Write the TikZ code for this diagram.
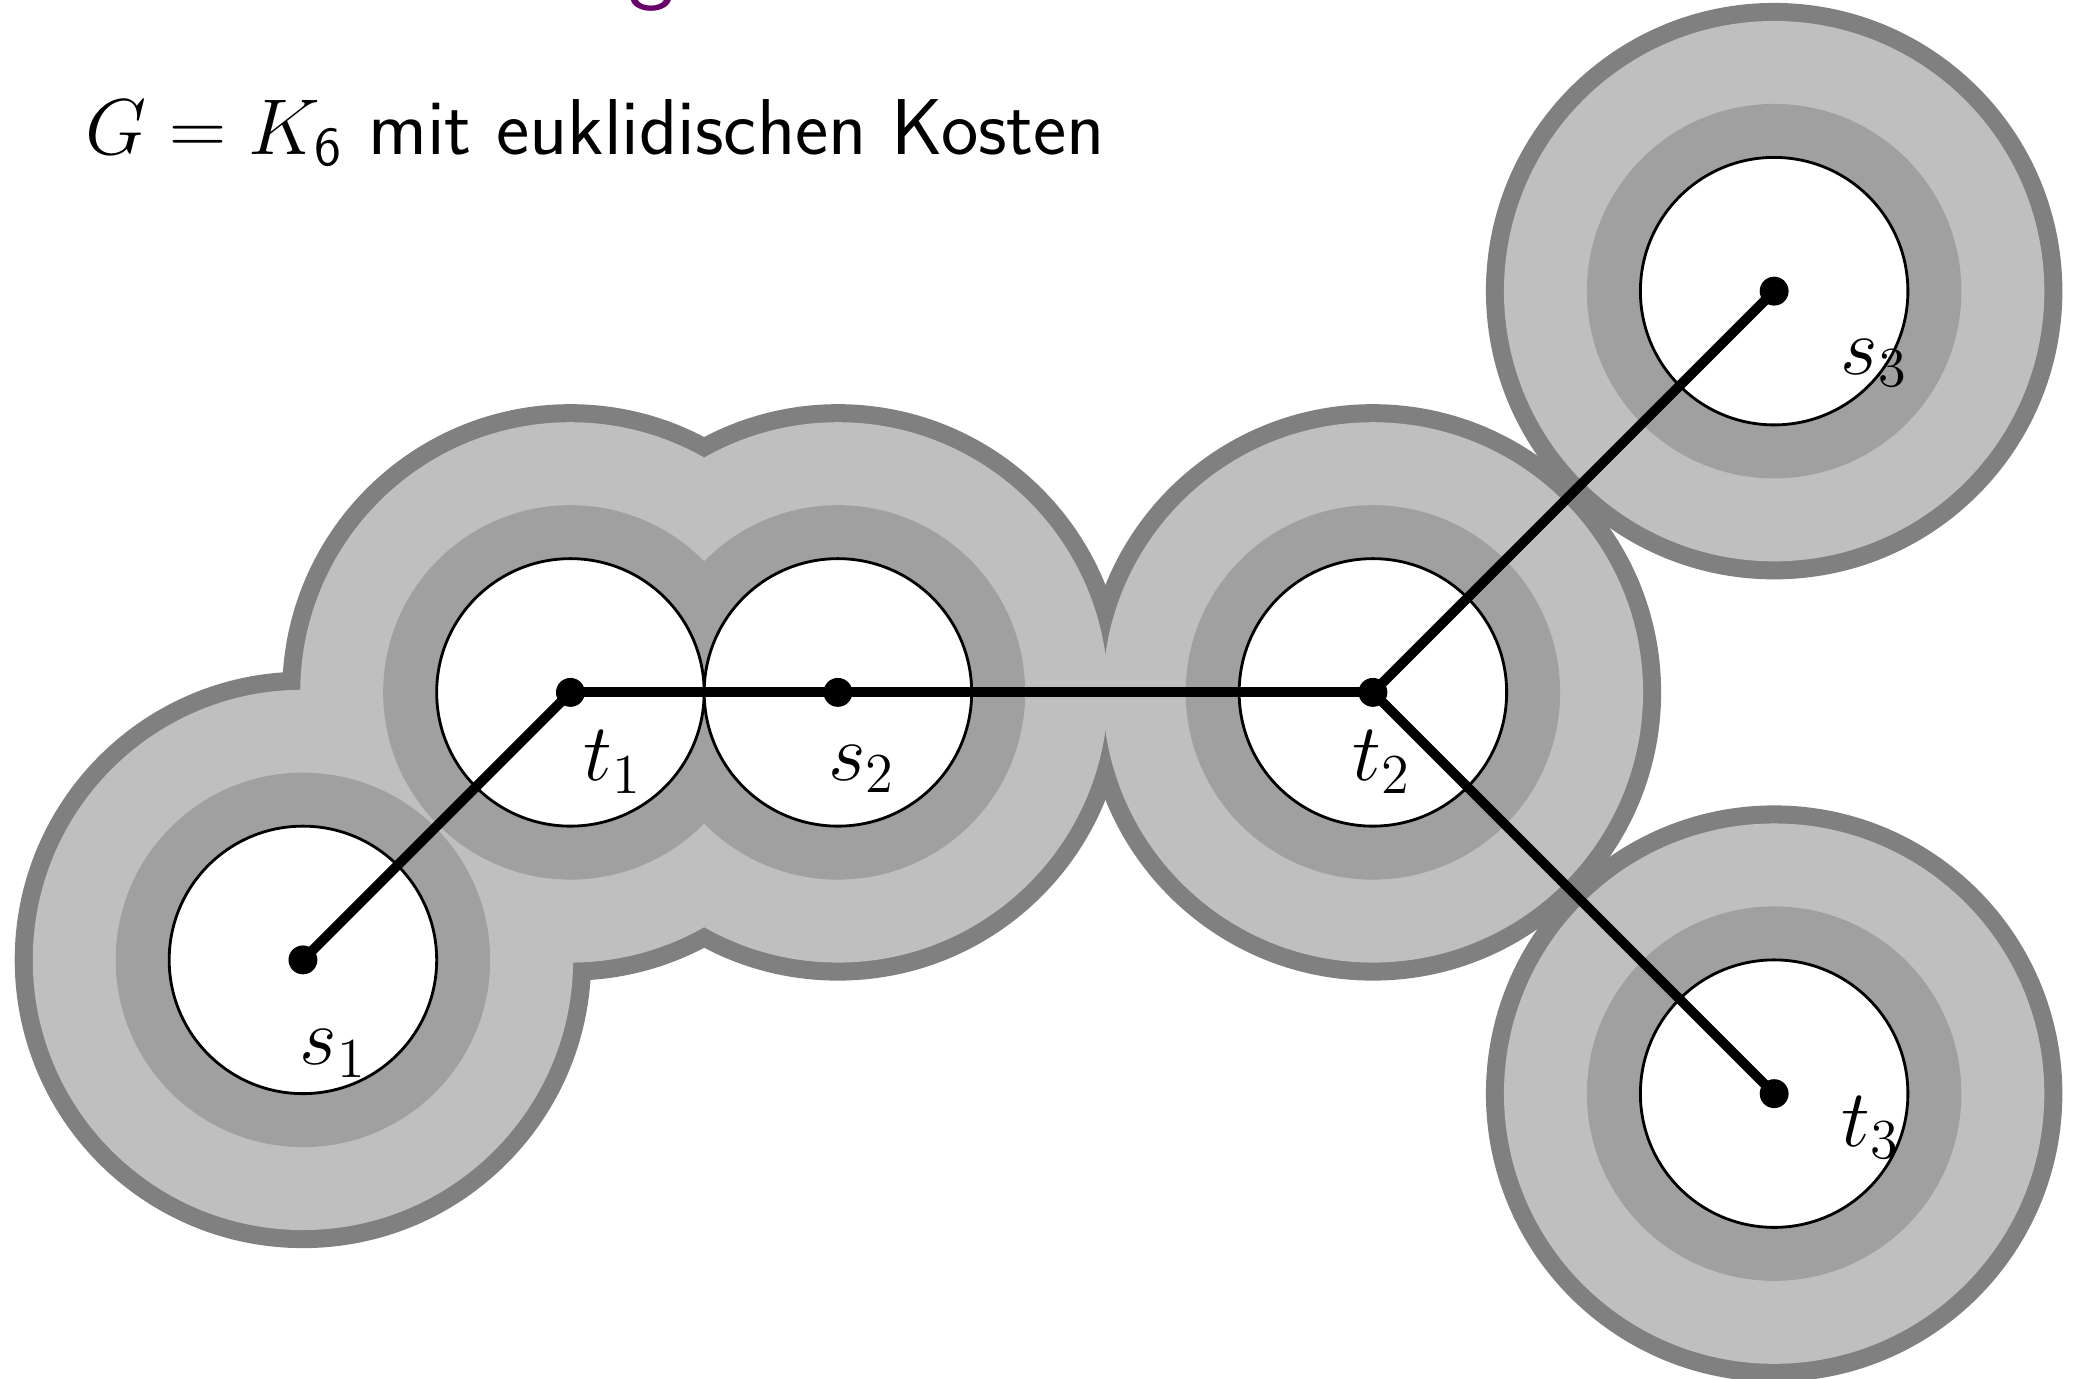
\documentclass[tikz,border=0pt]{standalone}
\usetikzlibrary{calc}
\definecolor{moatborder}{RGB}{128,128,128}
\definecolor{moatfill}{RGB}{191,191,191}
\definecolor{innerfill}{RGB}{160,160,160}
\definecolor{titlepurple}{RGB}{105,0,105}
\begin{document}
\begin{tikzpicture}[
  moatline/.style={draw=moatborder, line width=0.27cm},
  moatarea/.style={fill=moatfill},
  innerarea/.style={fill=innerfill},
  corearea/.style={draw=black, line width=0.6pt, fill=white},
  edgeline/.style={draw=black, line width=2.1pt},
  vdot/.style={fill=black},
  lbl/.style={inner sep=0pt, font=\fontsize{17.28}{21}\selectfont}
]
\clip (-4.265,-5.133) rectangle (11.287,5.177);
\coordinate (s1) at (-2,-2);
\coordinate (t1) at (0,0);
\coordinate (s2) at (2,0);
\coordinate (t2) at (6,0);
\coordinate (s3) at (9,3);
\coordinate (t3) at (9,-3);
\foreach \c in {s1,t1,s2,t2,s3,t3} \draw[moatline] (\c) circle (2.02);
\foreach \c in {s1,t1,s2,t2,s3,t3} \fill[moatarea] (\c) circle (2.02);
\foreach \c in {s1,t1,s2,t2,s3,t3} \fill[innerarea] (\c) circle (1.4);
\foreach \c in {s1,t1,s2,t2,s3,t3} \path[corearea] (\c) circle (1);
\draw[edgeline] (s1) -- (t1);
\draw[edgeline] (t1) -- (s2);
\draw[edgeline] (s2) -- (t2);
\draw[edgeline] (t2) -- (s3);
\draw[edgeline] (t2) -- (t3);
\foreach \c in {s1,t1,s2,t2,s3,t3} \fill[vdot] (\c) circle (0.108);
\node[lbl] (ls1) at ($(s1)+(0.23,-0.70)$) {$s_1$};
\node[lbl] (lt1) at ($(t1)+(0.32,-0.52)$) {$t_1$};
\node[lbl] (ls2) at ($(s2)+(0.18,-0.57)$) {$s_2$};
\node[lbl] (lt2) at ($(t2)+(0.07,-0.52)$) {$t_2$};
\node[lbl] (ls3) at ($(s3)+(0.75,-0.54)$) {$s_3$};
\node[lbl] (lt3) at ($(t3)+(0.725,-0.254)$) {$t_3$};
\node[lbl, anchor=base west] (title) at (-3.63,4.025) {\scalebox{0.975}{\sffamily $G = K_{\mathsf{6}}$ mit euklidischen Kosten}};
\node[inner sep=0pt, anchor=base west, text=titlepurple, font=\sffamily\fontsize{20.74}{25}\selectfont] (frametitle) at (0.43,5.24) {g};
\end{tikzpicture}
\end{document}
